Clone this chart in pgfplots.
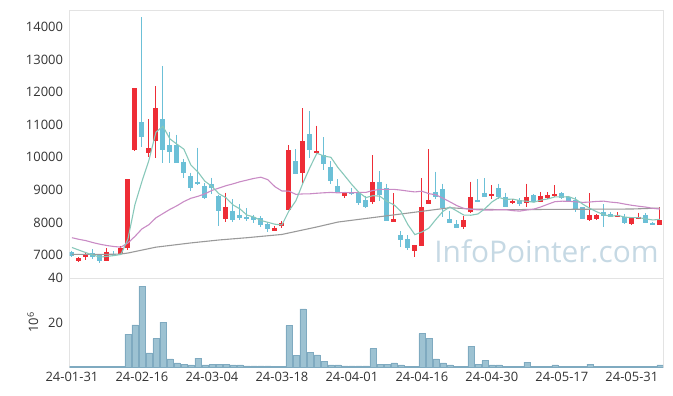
\documentclass[border=0pt]{standalone}
\usepackage{pgfplots}
\pgfplotsset{compat=1.18}
\usepackage{pgfplotstable}
\usepackage{fontspec}
\setmainfont{Open Sans}
\definecolor{upred}{HTML}{EE2D36}
\definecolor{downblue}{HTML}{6CC0D7}
\definecolor{maA}{HTML}{88C8BA}
\definecolor{maB}{HTML}{C98BC5}
\definecolor{maC}{HTML}{9A9A9A}
\definecolor{volfill}{HTML}{9DC2D2}
\definecolor{voledge}{HTML}{7FAAC0}
\definecolor{framec}{HTML}{E3E3E3}
\definecolor{wm}{HTML}{C6D9E4}

\pgfplotstableread{
i o h l c
1 6830 6930 6800 6900
2 6950 7100 6860 7030
5 6830 7200 6830 7080
7 7030 7280 6990 7200
8 7200 9330 7140 9320
9 10230 12110 10180 12110
11 10140 11160 10010 10280
12 10510 12180 9970 11500
22 8110 8910 8010 8460
29 7750 7880 7740 7840
30 7890 8050 7820 7990
31 8380 10360 8380 10220
33 9520 11500 9180 10500
35 10120 10970 10100 10190
39 8820 8930 8760 8920
43 8630 10060 8570 9240
46 8000 8890 8000 8100
49 7130 7310 6930 7310
50 7280 9350 7270 8460
51 8560 10240 8560 8690
56 7870 8200 7790 8070
57 8310 9250 8280 8770
60 8820 9140 8720 8870
63 8600 8710 8550 8660
65 8600 9190 8480 8770
67 8630 8930 8630 8810
68 8760 8920 8720 8840
69 8810 9140 8780 8870
74 8070 8890 8040 8230
75 8110 8260 8080 8230
78 8170 8310 8170 8230
80 7940 8160 7920 8140
81 8110 8300 8110 8180
84 7920 8460 7920 8070
}\upT

\pgfplotstableread{
i o h l c
0 7080 7130 6940 6960
3 7060 7180 6890 6950
4 6990 7000 6760 6830
6 7040 7110 7000 7020
10 11070 14300 10300 10630
13 11170 12800 9810 10220
14 10370 10780 9820 10170
15 10370 10690 9830 9830
16 9860 9950 9370 9500
17 9420 9530 8960 9060
18 9250 10290 9160 9180
19 9120 9220 8720 8740
20 9180 9370 8880 9050
21 8810 8830 7890 8360
23 8350 8710 8010 8070
24 8230 8550 8070 8130
25 8170 8430 8040 8100
26 8180 8240 7990 8070
27 8120 8190 7850 7920
28 7950 8010 7690 7790
32 9880 10250 9470 9480
34 10710 11420 9990 10220
36 10070 10610 9610 9790
37 9710 9890 9180 9280
38 9120 9330 8930 8940
40 8920 9060 8840 8860
41 8910 8920 8520 8600
42 8690 8800 8450 8480
44 9240 9570 8660 8840
45 9040 9190 8050 8050
47 7610 7730 7240 7460
48 7490 7600 7150 7200
52 8920 9560 8730 8790
53 9020 9190 8170 8430
54 8100 8360 7990 7990
55 7950 8070 7840 7840
58 8690 9330 8620 8620
59 8910 9350 8790 8790
61 9040 9190 8710 8770
62 8790 8910 8480 8480
64 8690 8740 8500 8560
66 8840 8860 8620 8620
70 8890 8930 8720 8760
71 8790 8820 8610 8660
72 8690 8790 8310 8400
73 8460 8460 8090 8100
76 8310 8550 7870 8210
77 8250 8310 8170 8170
79 8180 8260 7950 7970
82 8230 8280 7970 7970
83 7990 8000 7910 7920
}\downT

\pgfplotstableread{
i v
0 7230
1 7150
2 7070
3 7000
4 6934
5 6958
6 6982
7 7016
8 7490
9 8546
10 9256
11 9908
12 10768
13 10948
14 10560
15 10400
16 10244
17 9756
18 9548
19 9262
20 9106
21 8878
22 8758
23 8536
24 8414
25 8224
26 8166
27 8058
28 8002
29 7944
30 7922
31 8352
32 8664
33 9206
34 9682
35 10122
36 10036
37 9996
38 9684
39 9424
40 9158
41 8920
42 8760
43 8820
44 8804
45 8642
46 8542
47 8338
48 7930
49 7624
50 7706
51 7824
52 8090
53 8336
54 8472
55 8348
56 8224
57 8220
58 8258
59 8418
60 8624
61 8764
62 8706
63 8714
64 8668
65 8648
66 8618
67 8684
68 8720
69 8782
70 8780
71 8788
72 8706
73 8558
74 8430
75 8324
76 8234
77 8188
78 8214
79 8162
80 8144
81 8146
82 8106
83 8074
84 8094
}\maFive

\pgfplotstableread{
i v
0 7530
1 7480
2 7440
3 7380
4 7330
5 7290
6 7260
7 7240
8 7370
9 7570
10 7800
11 7930
12 8140
13 8270
14 8400
15 8510
16 8640
17 8740
18 8800
19 8876
20 8980
21 9053
22 9125
23 9181
24 9246
25 9297
26 9349
27 9385
28 9309
29 9095
30 8963
31 8960
32 8859
33 8873
34 8876
35 8894
36 8908
37 8919
38 8907
39 8916
40 8907
41 8919
42 8920
43 8978
44 9014
45 9011
46 9013
47 8990
48 8960
49 8934
50 8957
51 8881
52 8846
53 8743
54 8631
55 8514
56 8428
57 8402
58 8386
59 8380
60 8380
61 8389
62 8389
63 8360
64 8346
65 8382
66 8408
67 8475
68 8557
69 8635
70 8650
71 8649
72 8629
73 8613
74 8625
75 8644
76 8651
77 8621
78 8602
79 8561
80 8524
81 8495
82 8469
83 8432
84 8408
}\maTwenty

\pgfplotstableread{
i v
0 7020
5 7020
7 7030
8 7060
12 7240
17 7370
21 7460
25 7530
30 7630
35 7860
38 8010
42 8120
46 8230
50 8340
54 8450
57 8410
61 8390
70 8400
80 8410
84 8440
}\maSixty

\pgfplotstableread{
i v
0 0.1
1 0.1
2 0.1
3 0.3
4 0.1
5 0.3
6 0.3
7 0.3
8 14.8
9 18.9
10 36.4
11 6.3
12 12.7
13 20.2
14 3.6
15 1.8
16 1.3
17 0.9
18 4.0
19 0.9
20 1.3
21 1.3
22 1.3
23 0.9
24 0.9
25 0.5
26 0.5
27 0.5
28 0.5
29 0.1
30 0.1
31 18.6
32 5.1
33 26.1
34 6.4
35 5.4
36 2.4
37 0.9
38 0.9
39 0.5
40 0.5
41 0.5
42 0.5
43 8.2
44 1.3
45 1.0
46 1.8
47 0.9
48 0.4
49 0.4
50 15.0
51 12.7
52 3.6
53 1.8
54 0.9
55 0.4
56 0.4
57 9.4
58 1.3
59 2.8
60 0.9
61 0.9
62 0.4
63 0.4
64 0.4
65 2.2
66 0.4
67 0.4
68 0.4
69 0.9
70 0.4
71 0.4
72 0.4
73 0.4
74 1.3
75 0.1
76 0.4
77 0.1
78 0.1
79 0.1
80 0.1
81 0.1
82 0.1
83 0.1
84 0.9
}\volT

\begin{document}
\begin{tikzpicture}
\path[use as bounding box] (0,0) rectangle (673bp,396bp);
\pgfplotsset{
  common/.style={
    scale only axis, anchor=south west,
    width=593.5bp,
    xmin=-0.35, xmax=84.45,
    axis line style={draw=framec},
    major tick length=0pt,
    xtick={0,10,...,80},
    tick label style={font=\fontsize{13}{15}\selectfont, text=black!80},
    /pgf/number format/assume math mode=true,
    /pgf/number format/set thousands separator={},
    scaled y ticks=false,
    clip=true,
  }
}
\begin{axis}[common,
  at={(69.5bp,118bp)}, height=268bp,
  ymin=6294, ymax=14515,
  ytick={7000,8000,...,14000},
  xticklabels={},
  yticklabel style={xshift=-3bp},
]
\node[font=\fontsize{30}{32}\selectfont, text=wm, anchor=center] at (axis description cs:0.8037,0.098) {InfoPointer.com};
% wicks
\addplot[draw=none, mark=none, forget plot, error bars/.cd, y dir=minus, y explicit, error mark=none, error bar style={line width=1bp, draw=upred}]
  table[x=i, y=h, y error expr=\thisrow{h}-\thisrow{l}] {\upT};
\addplot[draw=none, mark=none, forget plot, error bars/.cd, y dir=minus, y explicit, error mark=none, error bar style={line width=1bp, draw=downblue}]
  table[x=i, y=h, y error expr=\thisrow{h}-\thisrow{l}] {\downT};
% bodies
\addplot[draw=none, mark=none, forget plot, error bars/.cd, y dir=minus, y explicit, error mark=none, error bar style={line width=5bp, draw=upred}]
  table[x=i, y=c, y error expr={max(\thisrow{c}-\thisrow{o},30)}] {\upT};
\addplot[draw=none, mark=none, forget plot, error bars/.cd, y dir=minus, y explicit, error mark=none, error bar style={line width=5bp, draw=downblue}]
  table[x=i, y=o, y error expr={max(\thisrow{o}-\thisrow{c},30)}] {\downT};
% moving averages
\addplot[maC, line width=1.1bp, mark=none] table[x=i, y=v] {\maSixty};
\addplot[maB, line width=1.1bp, mark=none] table[x=i, y=v] {\maTwenty};
\addplot[maA, line width=1.1bp, mark=none] table[x=i, y=v] {\maFive};
\end{axis}

\begin{axis}[common,
  at={(69.5bp,29bp)}, height=89bp,
  ymin=0, ymax=40,
  ytick={20,40},
  xticklabels={24-01-31,24-02-16,24-03-04,24-03-18,24-04-01,24-04-16,24-04-30,24-05-17,24-05-31},
  xticklabel style={yshift=-2bp},
  yticklabel style={xshift=-3bp},
  ylabel={10\textsuperscript{6}},
  ylabel style={at={(axis description cs:-0.062,0.5)}, anchor=center, font=\fontsize{13}{15}\selectfont, text=black!80},
]
\addplot[ybar, bar width=6bp, fill=volfill, draw=voledge, line width=0.6bp] table[x=i, y=v] {\volT};
\end{axis}
\end{tikzpicture}
\end{document}
